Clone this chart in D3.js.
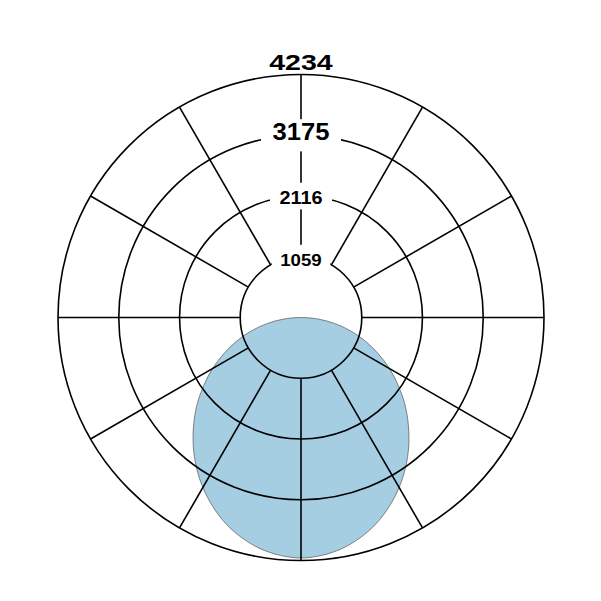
<!DOCTYPE html>
<html>
<head>
<meta charset="utf-8">
<script src="https://cdn.jsdelivr.net/npm/d3@7"></script>
<style>
body { margin: 0; background: #fff; }
</style>
</head>
<body>
<div class="draw"></div>
<script>
// intensity curve: angle from nadir (deg), value
var angles = [-85, -80, -75, -70, -65, -60, -55, -50, -45, -40, -35, -30, -25, -20, -15, -10, -5,
              0, 5, 10, 15, 20, 25, 30, 35, 40, 45, 50, 55, 60, 65, 70, 75, 80, 85, 90];
var values = [295, 590, 890, 1185, 1480, 1780, 2070, 2365, 2645, 2920, 3180, 3420, 3635, 3825, 3975, 4090, 4160,
              4190, 4160, 4090, 3975, 3825, 3635, 3420, 3180, 2920, 2645, 2365, 2070, 1780, 1480, 1185, 890, 590, 295, 0];
var ticks = [1059, 2116, 3175, 4234];
var spokes = [0, 30, 60, 90, 120, 150, 180, 210, 240, 270, 300, 330];

var width = 601, height = 601;
var cx = 301, cy = 317.5, R = 243;

var svg = d3.select(".draw").append("svg")
    .attr("width", width)
    .attr("height", height);

var r = d3.scaleLinear()
    .domain([0, ticks[ticks.length - 1]])
    .range([0, R]);

var g = svg.append("g")
    .attr("transform", "translate(" + cx + "," + cy + ")");

var pts = angles.map(function (a, i) { return { a: a, v: values[i] }; });

var line = d3.lineRadial()
    .angle(function (d) { return Math.PI - d.a * Math.PI / 180; })
    .radius(function (d) { return r(d.v); })
    .curve(d3.curveCatmullRomClosed);

// curve first, grid goes over it
g.append("path")
    .datum(pts)
    .attr("d", line)
    .attr("fill", "#a6cee3")
    .attr("stroke", "#555")
    .attr("stroke-width", 0.7);

g.selectAll(".ring")
    .data(ticks)
    .enter().append("circle")
    .attr("class", "ring")
    .attr("r", function (d) { return r(d); })
    .attr("fill", "none")
    .attr("stroke", "#000")
    .attr("stroke-width", 1.6);

g.selectAll(".spoke")
    .data(spokes)
    .enter().append("line")
    .attr("class", "spoke")
    .attr("x1", function (d) { return r(ticks[0]) * Math.sin(d * Math.PI / 180); })
    .attr("y1", function (d) { return -r(ticks[0]) * Math.cos(d * Math.PI / 180); })
    .attr("x2", function (d) { return R * Math.sin(d * Math.PI / 180); })
    .attr("y2", function (d) { return -R * Math.cos(d * Math.PI / 180); })
    .attr("stroke", "#000")
    .attr("stroke-width", 1.6);

// label font size, stretched width and baseline shift from the ring
var fsize = [17, 19, 23, 22];
var tlen = [41.5, 43, 57, 63.5];
var shift = [8.8, 8.4, 5, -4.8];

ticks.forEach(function (t, i) {
    var last = i == ticks.length - 1;
    var lg = g.append("g");
    var box = lg.append("rect").attr("fill", "#fff");
    var w = tlen[i];
    lg.append("text")
        .attr("x", -w / 2)
        .attr("y", -r(t) + shift[i])
        .attr("font-family", "'Liberation Sans', Arial, Helvetica, sans-serif")
        .attr("font-weight", "bold")
        .attr("font-size", fsize[i])
        .attr("textLength", w)
        .attr("lengthAdjust", "spacingAndGlyphs")
        .attr("fill", "#000")
        .text(t);
    if (!last) {
        var px = fsize[i] * 0.5, h = fsize[i] * 1.4;
        box.attr("x", -w / 2 - px)
            .attr("y", -r(t) - h / 2)
            .attr("width", w + 2 * px)
            .attr("height", h);
    } else {
        box.remove();
    }
});
</script>
</body>
</html>
